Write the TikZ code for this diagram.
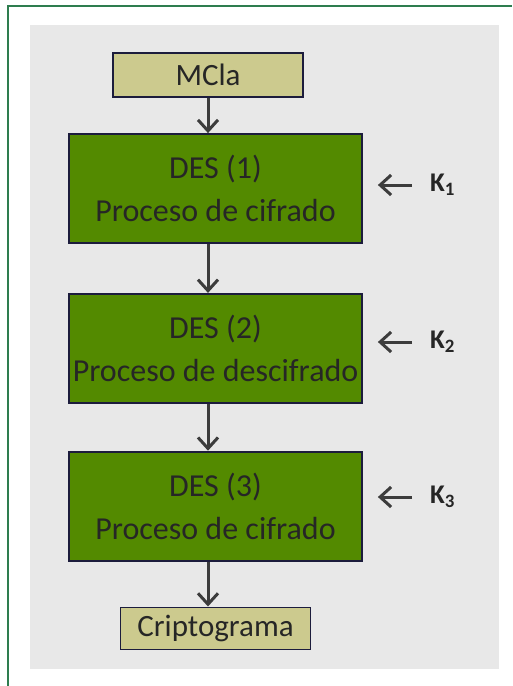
\documentclass[tikz,border=0pt]{standalone}
\usepackage{fontspec}
\setmainfont{Carlito}
\usepackage{xcolor}
\usetikzlibrary{arrows.meta, positioning}
\definecolor{framegreen}{HTML}{2E7D4F}
\definecolor{panelgrey}{HTML}{E8E8E8}
\definecolor{desgreen}{HTML}{538A00}
\definecolor{khaki}{HTML}{CCCA8E}
\definecolor{boxline}{HTML}{1C1C3C}
\definecolor{arrowgrey}{HTML}{3C3C3C}

\begin{document}
\begin{tikzpicture}[x=1pt, y=1pt,
    desbox/.style={draw=boxline, line width=1.8pt, fill=desgreen, minimum width=293pt, minimum height=109pt, align=center, font=\fontsize{32}{43}\selectfont, text=black!85, inner sep=0pt},
    msgbox/.style={draw=boxline, line width=1.8pt, fill=khaki, minimum width=190pt, minimum height=44pt, font=\fontsize{31}{34}\selectfont, text=black!85, inner sep=0pt},
    keylabel/.style={anchor=west, inner sep=0pt, font=\fontsize{27}{30}\selectfont\bfseries, text=black!85},
    arrow/.style={-{Straight Barb[length=11pt, width=20pt, line width=3pt]}, line width=3pt, color=arrowgrey}
]
\useasboundingbox (0,0) rectangle (512,-686);
% frame and panel
\draw[framegreen, line width=1.5pt] (8,-686) -- (8,-6) -- (512,-6);
\fill[panelgrey] (30,-25) rectangle (499,-669);

\node[desbox] (d1) at (215.5,-188.5) {DES (1)\\Proceso de cifrado};
\node[desbox] (d2) [below=49pt of d1] {DES (2)\\Proceso de descifrado};
\node[desbox] (d3) [below=47pt of d2] {DES (3)\\Proceso de cifrado};
\node[msgbox] (mcla) [above=35pt of d1, xshift=-7.5pt] {MCla};
\node[msgbox, minimum height=42pt] (cripto) [below=45pt of d3] {Criptograma};

\node[keylabel] (k1) at (430,-185) {K\textsubscript{1}};
\node[keylabel] (k2) at (430,-342) {K\textsubscript{2}};
\node[keylabel] (k3) at (430,-497) {K\textsubscript{3}};

\draw[arrow] (mcla) -- (mcla |- d1.north);
\draw[arrow] (d1.south -| mcla) -- (d2.north -| mcla);
\draw[arrow] (d2.south -| mcla) -- (d3.north -| mcla);
\draw[arrow] (d3.south -| mcla) -- (cripto.north -| mcla);

\draw[arrow, shorten <=18pt, shorten >=15pt] (k1.west) -- (k1.west -| d1.east);
\draw[arrow, shorten <=18pt, shorten >=15pt] (k2.west) -- (k2.west -| d2.east);
\draw[arrow, shorten <=18pt, shorten >=15pt] (k3.west) -- (k3.west -| d3.east);
\end{tikzpicture}
\end{document}
